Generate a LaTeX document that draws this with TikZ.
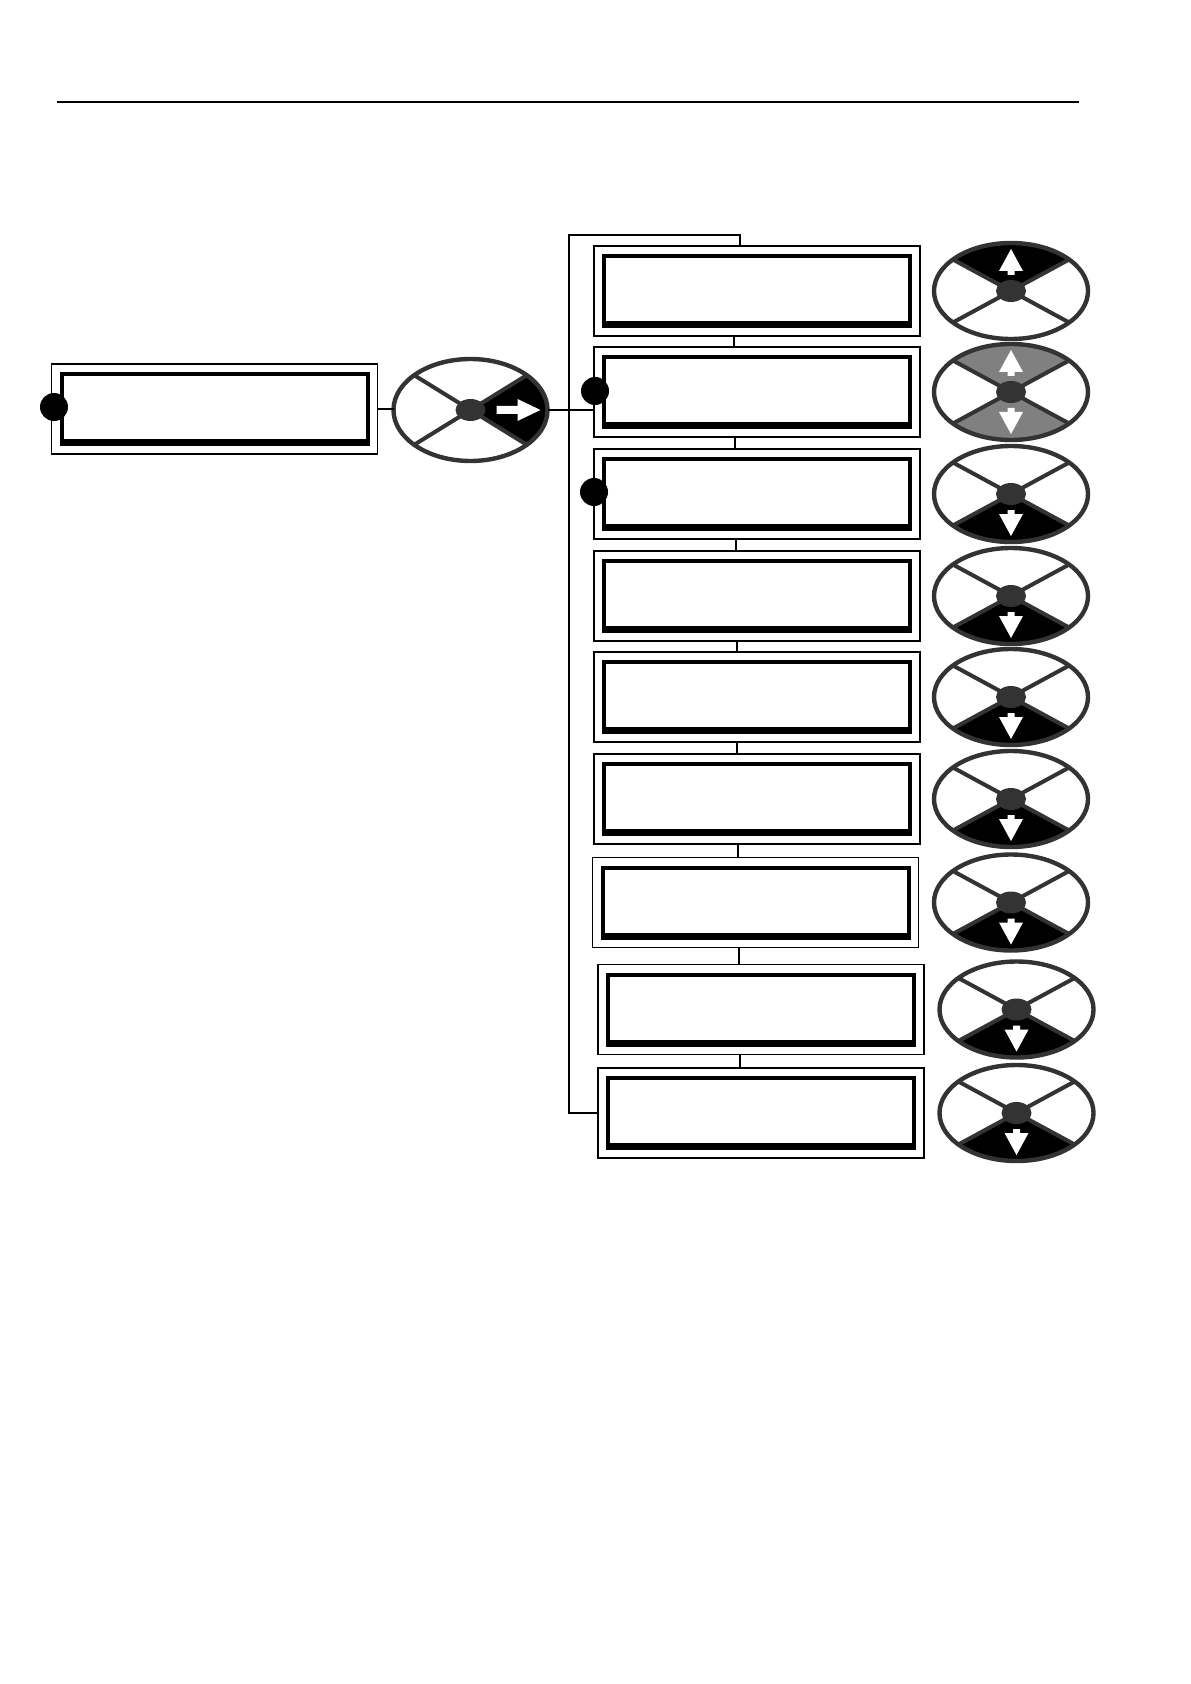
\documentclass[tikz,border=0pt]{standalone}
\usetikzlibrary{shapes.geometric,calc}
\definecolor{wheelgray}{RGB}{51,51,51}
\definecolor{midgray}{RGB}{128,128,128}
\newcommand{\dispbox}[3]{%
  \node[outerbox] (b#1) at (#2,#3) {};
  \node[innerbox] (i#1) at (#2,#3) {};
  \fill ([xshift=-1pt,yshift=-1pt]i#1.south west) rectangle ([xshift=1pt,yshift=2.5pt]i#1.south east);
}
\newcommand{\sector}[5]{%
  \fill[#5] (#1) -- ++({77*cos(#2)},{#4*sin(#2)}) arc[start angle=#2,end angle=#3,x radius=77,y radius=#4] -- cycle;}
\newcommand{\uparr}[1]{\fill[white] (#1) ++(0,-42) -- ++(12,22) -- ++(-8.5,0) -- ++(0,4) -- ++(-7,0) -- ++(0,-4) -- ++(-8.5,0) -- cycle;}
\newcommand{\downarr}[1]{\fill[white] (#1) ++(0,42) -- ++(12,-22) -- ++(-8.5,0) -- ++(0,-4) -- ++(-7,0) -- ++(0,4) -- ++(-8.5,0) -- cycle;}
\newcommand{\rightarr}[1]{\fill[white] (#1) ++(70,0) -- ++(-23,-11) -- ++(0,7) -- ++(-21,0) -- ++(0,8) -- ++(21,0) -- ++(0,7) -- cycle;}
\newcommand{\wheel}[6]{% name, x, y, ry, spoke angle, fills
  \coordinate (#1c) at (#2,#3);
  #6
  \node[wheelshape,minimum height=#4pt] (#1) at (#1c) {};
  \foreach \a in {#5,180-#5,-#5,#5-180} \draw[spoke] (#1c) -- ++({77*cos(\a)},{#4*sin(\a)});
  \node[hub] (#1h) at (#1c) {};
}
\begin{document}
\begin{tikzpicture}[x=0.5pt,y=-0.5pt,
  outerbox/.style={draw,line width=0.8pt,minimum width=163pt,minimum height=45pt,inner sep=0pt,outer sep=0pt},
  innerbox/.style={draw,line width=2pt,minimum width=153pt,minimum height=35pt,inner sep=0pt,outer sep=0pt},
  dot/.style={circle,fill=black,minimum size=14pt,inner sep=0pt},
  wheelshape/.style={ellipse,draw=wheelgray,line width=2.2pt,minimum width=77pt,inner sep=0pt,outer sep=0pt},
  hub/.style={ellipse,fill=wheelgray,minimum width=15pt,minimum height=11pt,inner sep=0pt},
  spoke/.style={draw=wheelgray,line width=2pt},
  link/.style={draw,line width=0.8pt},
]
\useasboundingbox (0,0) rectangle (1190,1684);
\fill[white] (0,0) rectangle (1190,1684);
\draw[line width=0.8pt] (57,102) -- (1079,102);

% main box and wheel
\dispbox{0}{214.5}{409}
\node[dot] (d0) at (54,407) {};
\wheel{w0}{470.5}{410}{51}{43}{\sector{w0c}{-43}{43}{51}{black}\rightarr{w0c}}

% right column boxes
\dispbox{1}{757}{291}
\dispbox{2}{757}{392}
\dispbox{3}{757}{494}
\dispbox{4}{757}{596}
\dispbox{5}{757}{697}
\dispbox{6}{757}{799}
\dispbox{7}{755.5}{902.5}
\dispbox{8}{761}{1009.5}
\dispbox{9}{761}{1113}
\node[dot] (d2) at (595,391) {};
\node[dot] (d3) at (594,492) {};

% connectors
\path[link] (b0.east) -- (b0.east -| w0.west);
\path[link] (w0.east) -- (w0.east -| b2.west);
\coordinate (bustop) at (569,235);
\coordinate (t1) at (740,235);
\path[link] (b1.north -| t1) -- (t1) -- (bustop) |- (b9.west);
\path[link] (b1.south -| 734,0) -- (b2.north -| 734,0);
\path[link] (b2.south -| 735,0) -- (b3.north -| 735,0);
\path[link] (b3.south -| 736,0) -- (b4.north -| 736,0);
\path[link] (b4.south -| 737,0) -- (b5.north -| 737,0);
\path[link] (b5.south -| 737,0) -- (b6.north -| 737,0);
\path[link] (b6.south -| 738,0) -- (b7.north -| 738,0);
\path[link] (b7.south -| 739,0) -- (b8.north -| 739,0);
\path[link] (b8.south -| 740,0) -- (b9.north -| 740,0);

% right column wheels
\wheel{w1}{1011}{291}{48}{41}{\sector{w1c}{-139}{-41}{48}{black}\uparr{w1c}}
\wheel{w2}{1011}{392}{48}{41}{\sector{w2c}{-139}{-41}{48}{midgray}\sector{w2c}{41}{139}{48}{midgray}\uparr{w2c}\downarr{w2c}}
\wheel{w3}{1011}{494}{48}{41}{\sector{w3c}{41}{139}{48}{black}\downarr{w3c}}
\wheel{w4}{1011}{596}{48}{41}{\sector{w4c}{41}{139}{48}{black}\downarr{w4c}}
\wheel{w5}{1011}{697}{48}{41}{\sector{w5c}{41}{139}{48}{black}\downarr{w5c}}
\wheel{w6}{1011}{799}{48}{41}{\sector{w6c}{41}{139}{48}{black}\downarr{w6c}}
\wheel{w7}{1011}{902.5}{48}{41}{\sector{w7c}{41}{139}{48}{black}\downarr{w7c}}
\wheel{w8}{1016.5}{1009.5}{48}{41}{\sector{w8c}{41}{139}{48}{black}\downarr{w8c}}
\wheel{w9}{1016.5}{1113}{48}{41}{\sector{w9c}{41}{139}{48}{black}\downarr{w9c}}
\end{tikzpicture}
\end{document}
